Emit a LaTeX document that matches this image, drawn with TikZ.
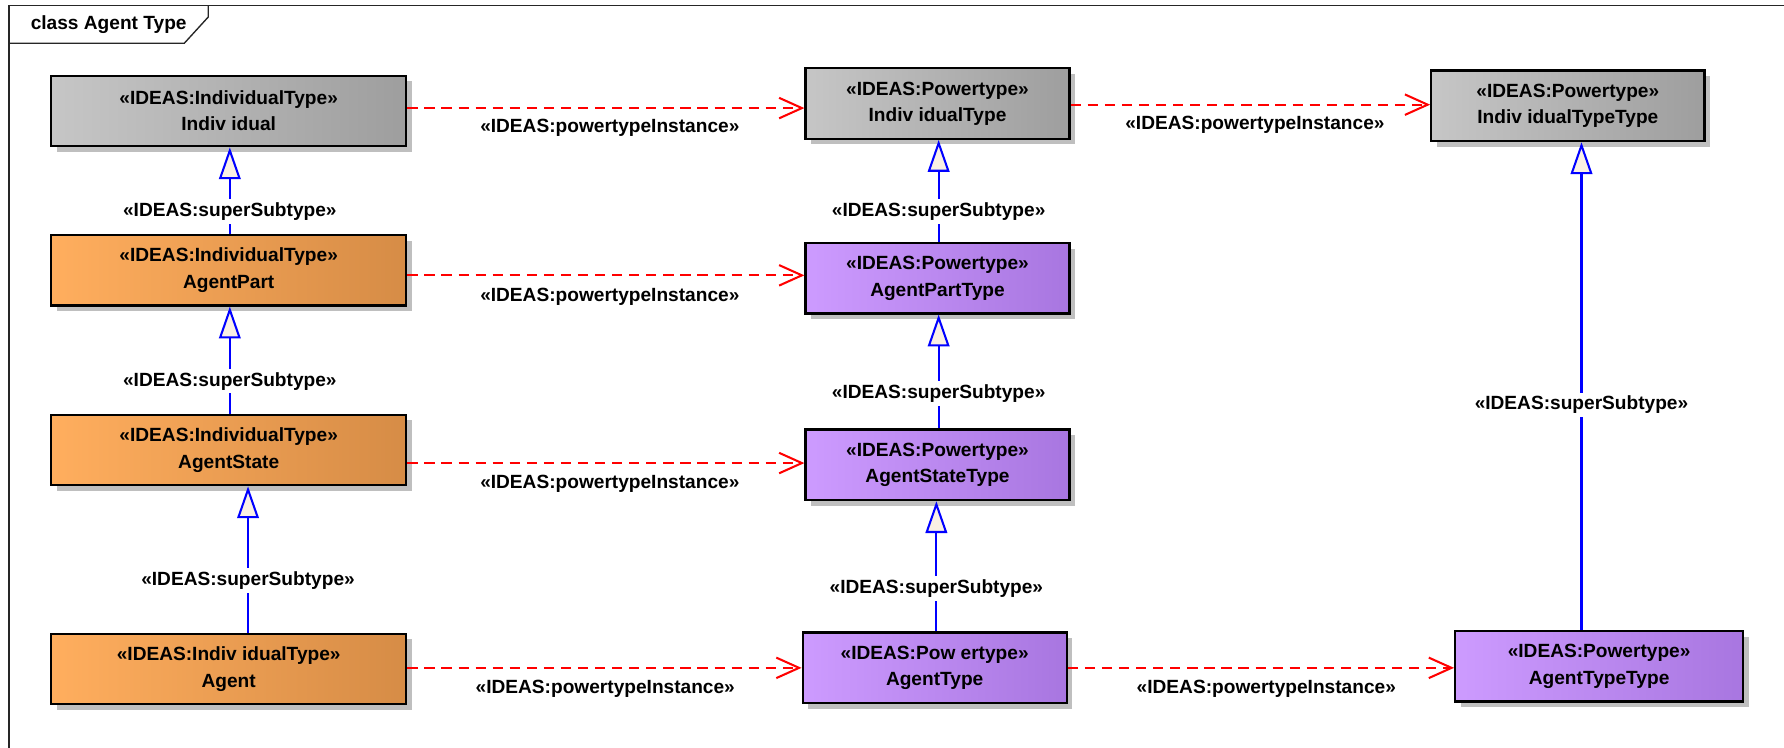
\documentclass[tikz,border=0pt]{standalone}
\usepackage{fontspec}
\setmainfont{Liberation Sans}
\usetikzlibrary{arrows.meta,shadows}

\definecolor{grayL}{RGB}{198,198,198}
\definecolor{grayR}{RGB}{158,158,158}
\definecolor{orngL}{RGB}{255,174,94}
\definecolor{orngR}{RGB}{214,140,70}
\definecolor{purpL}{RGB}{205,155,255}
\definecolor{purpR}{RGB}{168,118,224}
\definecolor{genfill}{RGB}{250,240,228}
\definecolor{lnred}{RGB}{255,0,0}
\definecolor{lnblue}{RGB}{0,0,255}

\tikzset{
  txt/.style={font=\fontsize{8.4}{11.6}\selectfont\bfseries},
  cls/.style={txt, draw=black, line width=1pt, align=center, inner sep=0pt,
    minimum height=31pt,
    drop shadow={shadow xshift=2.5pt, shadow yshift=-2.5pt, fill=black!25, opacity=1}},
  graycls/.style={cls, left color=grayL, middle color=grayL!92!grayR, right color=grayR},
  orngcls/.style={cls, left color=orngL, middle color=orngL!95!orngR, right color=orngR},
  purpcls/.style={cls, left color=purpL, middle color=purpL!95!purpR, right color=purpR},
  inst/.style={draw=lnred, line width=0.9pt, dash pattern=on 4.5pt off 3pt,
    -{Straight Barb[length=10pt, width=9pt]}},
  gen/.style={draw=lnblue, line width=0.9pt,
    -{Triangle[length=14pt, width=9.5pt, fill=genfill]}},
  lbl/.style={txt, inner sep=1pt},
  genlbl/.style={txt, fill=white, inner sep=1.5pt},
  frame/.style={draw=black!85, line width=0.6pt}
}

\begin{document}
\begin{tikzpicture}[x=0.5pt, y=-0.5pt]
  \useasboundingbox (0,0) rectangle (1568,657);

  % diagram frame with its name tab
  \draw[frame] (8,657) -- (8,5) -- (1568,5);
  \draw[frame] (183,5) -- (183,15) -- (162,38) -- (8,38);
  \node[txt, anchor=west] (title) at (20,22) {class Agent Type};

  % left column: individual types
  \node[graycls, minimum width=156pt] (ind)   at (201,97.5)  {«IDEAS:IndividualType»\\Indiv idual};
  \node[orngcls, minimum width=156pt] (part)  at (201,237.5) {«IDEAS:IndividualType»\\AgentPart};
  \node[orngcls, minimum width=156pt] (state) at (201,395.5) {«IDEAS:IndividualType»\\AgentState};
  \node[orngcls, minimum width=156pt] (agent) at (201,588)   {«IDEAS:Indiv idualType»\\Agent};

  % middle column: powertypes
  \node[graycls, minimum width=116pt] (indT)   at (824,91)    {«IDEAS:Powertype»\\Indiv idualType};
  \node[purpcls, minimum width=116pt] (partT)  at (824,244.5) {«IDEAS:Powertype»\\AgentPartType};
  \node[purpcls, minimum width=116pt] (stateT) at (824,408.5) {«IDEAS:Powertype»\\AgentStateType};
  \node[purpcls, minimum width=116pt] (agentT) at (821.5,587) {«IDEAS:Pow ertype»\\AgentType};

  % right column: powertypes of powertypes
  \node[graycls, minimum width=120pt]   (indTT)   at (1378,93)     {«IDEAS:Powertype»\\Indiv idualTypeType};
  \node[purpcls, minimum width=126.5pt] (agentTT) at (1405.5,585.5) {«IDEAS:Powertype»\\AgentTypeType};

  % heights of the instance connectors
  \coordinate (h1) at (0,95);
  \coordinate (h1r) at (0,92);
  \coordinate (h2) at (0,242);
  \coordinate (h3) at (0,407);
  \coordinate (h4) at (0,587);

  % powertype instance connectors
  \draw[inst] (ind.east |- h1)    -- (indT.west |- h1);
  \draw[inst] (indT.east |- h1r)  -- (indTT.west |- h1r);
  \draw[inst] (part.east |- h2)   -- (partT.west |- h2);
  \draw[inst] (state.east |- h3)  -- (stateT.west |- h3);
  \draw[inst] (agent.east |- h4)  -- (agentT.west |- h4);
  \draw[inst] (agentT.east |- h4) -- (agentTT.west |- h4);

  \node[lbl] (l1)  at (536,112)  {«IDEAS:powertypeInstance»};
  \node[lbl] (l1r) at (1103,110) {«IDEAS:powertypeInstance»};
  \node[lbl] (l2)  at (536,261)  {«IDEAS:powertypeInstance»};
  \node[lbl] (l3)  at (536,425)  {«IDEAS:powertypeInstance»};
  \node[lbl] (l4)  at (532,605)  {«IDEAS:powertypeInstance»};
  \node[lbl] (l4r) at (1113,605) {«IDEAS:powertypeInstance»};

  % x positions of the generalization connectors
  \coordinate (v1) at (202,0);
  \coordinate (v2) at (218,0);
  \coordinate (v3) at (825,0);
  \coordinate (v4) at (823,0);
  \coordinate (v5) at (1390,0);

  % super/subtype generalizations
  \draw[gen] (part.north -| v1)    -- (ind.south -| v1);
  \draw[gen] (state.north -| v1)   -- (part.south -| v1);
  \draw[gen] (agent.north -| v2)   -- (state.south -| v2);
  \draw[gen] (partT.north -| v3)   -- (indT.south -| v3);
  \draw[gen] (stateT.north -| v3)  -- (partT.south -| v3);
  \draw[gen] (agentT.north -| v4)  -- (stateT.south -| v4);
  \draw[gen] (agentTT.north -| v5) -- (indTT.south -| v5);

  \node[genlbl] (s1) at (202,186)  {«IDEAS:superSubtype»};
  \node[genlbl] (s2) at (202,335)  {«IDEAS:superSubtype»};
  \node[genlbl] (s3) at (218,510)  {«IDEAS:superSubtype»};
  \node[genlbl] (s4) at (825,186)  {«IDEAS:superSubtype»};
  \node[genlbl] (s5) at (825,346)  {«IDEAS:superSubtype»};
  \node[genlbl] (s6) at (823,517)  {«IDEAS:superSubtype»};
  \node[genlbl] (s7) at (1390,356) {«IDEAS:superSubtype»};
\end{tikzpicture}
\end{document}
